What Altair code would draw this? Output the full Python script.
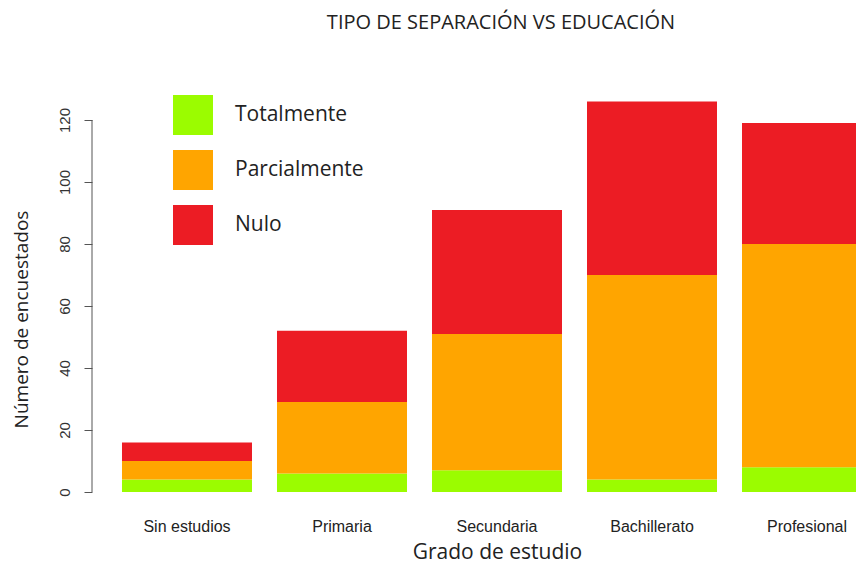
import altair as alt
import pandas as pd

categorias = ["Sin estudios", "Primaria", "Secundaria", "Bachillerato", "Profesional"]
series = ["Totalmente", "Parcialmente", "Nulo"]
totalmente = [4, 6, 7, 4, 8]
parcialmente = [6, 23, 44, 66, 72]
nulo = [6, 23, 40, 56, 39]
colores = ["#9BFC00", "#FFA500", "#EC1C24"]
y_ticks = [0, 20, 40, 60, 80, 100, 120]

rows = []
for i, c in enumerate(categorias):
    for j, (s, vals) in enumerate(zip(series, [totalmente, parcialmente, nulo])):
        rows.append({"grado": c, "tipo": s, "orden": j, "valor": vals[i]})
df = pd.DataFrame(rows)

bars = alt.Chart(df).mark_bar(clip=True, strokeWidth=0).encode(
    x=alt.X(
        "grado:N",
        sort=categorias,
        scale=alt.Scale(range=[0, 810], paddingInner=0.1613, paddingOuter=0.1935),
        axis=alt.Axis(
            title="Grado de estudio",
            domain=False,
            ticks=False,
            labelAngle=0,
            labelFont="Liberation Sans",
            labelFontSize=16,
            labelColor="#222222",
            labelPadding=39,
            labelBaseline="alphabetic",
            titleFont="Open Sans",
            titleFontSize=21,
            titleFontWeight="normal",
            titleColor="#222222",
            titleBaseline="alphabetic",
            titleY=66,
        ),
    ),
    y=alt.Y(
        "valor:Q",
        stack="zero",
        scale=alt.Scale(domain=[0, 130], nice=False),
        axis=alt.Axis(
            title="Número de encuestados",
            values=y_ticks,
            grid=False,
            domain=False,
            tickSize=8,
            tickColor="#555555",
            labelAngle=270,
            labelFont="Liberation Sans",
            labelFontSize=15,
            labelColor="#333333",
            labelPadding=12,
            titleFont="Open Sans",
            titleFontSize=19,
            titleFontWeight="normal",
            titleColor="#222222",
            titleAngle=270,
            titleX=-71,
            titleY=230,
            titleAlign="center",
            titleBaseline="middle",
        ),
    ),
    color=alt.Color(
        "tipo:N",
        scale=alt.Scale(domain=series, range=colores),
        sort=series,
        legend=alt.Legend(
            title=None,
            orient="none",
            legendX=81,
            legendY=6,
            symbolType="square",
            symbolSize=1600,
            symbolStrokeWidth=0,
            symbolOpacity=1,
            labelFont="Open Sans",
            labelFontSize=21,
            labelColor="#222222",
            labelOffset=22,
            rowPadding=15,
            padding=0,
            offset=0,
        ),
    ),
    order=alt.Order("orden:Q", sort="ascending"),
)

axis_line = alt.Chart(pd.DataFrame({"a": [0]})).mark_rule(color="#555555", strokeWidth=1).encode(
    x=alt.value(0),
    y=alt.datum(0),
    y2=alt.datum(120),
)

chart = alt.layer(bars, axis_line).properties(
    width=764,
    height=403,
    title=alt.TitleParams(
        "TIPO DE SEPARACIÓN VS EDUCACIÓN",
        font="Open Sans",
        fontSize=20,
        fontWeight="normal",
        color="#222222",
        anchor="middle",
        frame="group",
        baseline="alphabetic",
        offset=40,
        dx=27,
    ),
    autosize=alt.AutoSizeParams(type="none"),
    padding={"left": 84, "top": 81, "right": 0, "bottom": 73},
).configure_view(stroke=None)

chart.save("out.html", embed_options={"renderer": "svg", "actions": False})
